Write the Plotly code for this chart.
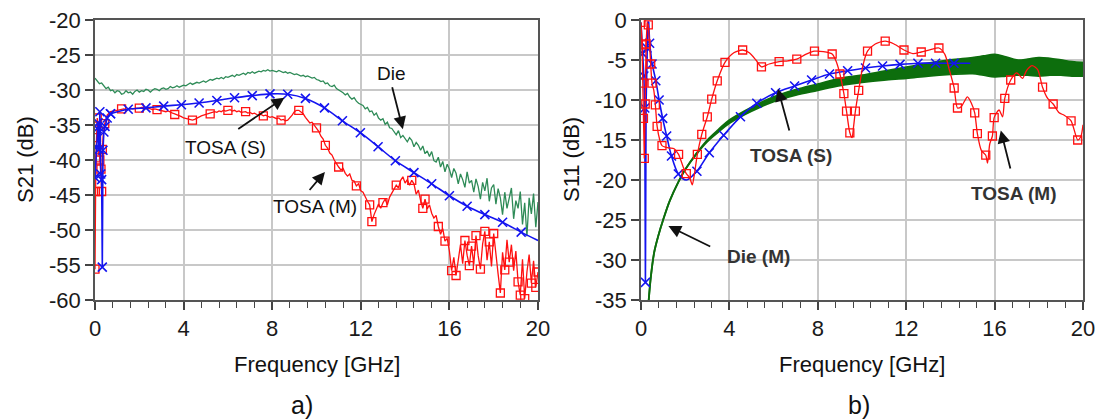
import plotly.graph_objects as go

# ---------------- tick labels ----------------
x_ticks = [0, 4, 8, 12, 16, 20]
x_labels = ["0", "4", "8", "12", "16", "20"]
y21_ticks = [-60, -55, -50, -45, -40, -35, -30, -25, -20]
y21_labels = ["-60", "-55", "-50", "-45", "-40", "-35", "-30", "-25", "-20"]
y11_ticks = [-35, -30, -25, -20, -15, -10, -5, 0]
y11_labels = ["-35", "-30", "-25", "-20", "-15", "-10", "-5", "0"]

# ---------------- S21 (panel a) ----------------
# Die: uniform grid 0..20 GHz step 0.1
die_s21 = [-28.3, -28.7, -29.1, -29.0, -29.4, -29.8, -29.6, -30.1, -30.0, -30.4, -30.1,
           -30.2, -30.6, -30.5, -30.1, -30.4, -30.3, -30.6, -30.2, -30.0, -30.3,
           -30.1, -30.2, -29.9, -30.0, -30.3, -30.0, -29.8, -29.9, -30.1, -29.8,
           -29.7, -29.9, -29.8, -29.5, -29.7, -29.6, -29.4, -29.6, -29.5, -29.3,
           -29.4, -29.2, -29.0, -29.2, -29.1, -28.9, -29.0, -28.8, -28.7, -28.9,
           -28.7, -28.5, -28.6, -28.5, -28.3, -28.4, -28.2, -28.4, -28.1, -28.2,
           -28.0, -27.9, -28.1, -27.8, -27.9, -27.7, -27.6, -27.8, -27.5, -27.6,
           -27.4, -27.6, -27.5, -27.3, -27.4, -27.2, -27.3, -27.1, -27.3, -27.2,
           -27.3, -27.4, -27.2, -27.4, -27.5, -27.4, -27.6, -27.5, -27.7, -27.8,
           -27.7, -27.9, -28.0, -27.9, -28.1, -28.0, -28.2, -28.3, -28.2, -28.5,
           -28.6, -28.8, -28.7, -29.1, -29.0, -29.4, -29.5, -29.3, -29.8, -30.0,
           -30.1, -30.4, -30.7, -30.5, -31.0, -31.3, -31.1, -31.6, -31.9, -32.0,
           -32.2, -32.7, -32.5, -33.1, -33.0, -33.6, -33.3, -34.0, -34.3, -34.1,
           -34.9, -34.6, -35.4, -35.5, -35.9, -36.4, -35.8, -36.8, -36.5, -37.0,
           -37.4, -36.8, -37.2, -38.1, -37.5, -37.9, -38.6, -38.0, -39.1, -38.7,
           -39.5, -38.8, -40.1, -40.3, -39.6, -41.0, -40.2, -41.7, -40.6, -41.3,
           -42.5, -41.2, -41.9, -43.4, -42.0, -42.8, -43.9, -41.7, -43.3, -42.9,
           -44.6, -42.7, -43.8, -45.6, -43.2, -44.4, -42.6, -45.9, -44.0, -43.5,
           -46.3, -44.1, -45.4, -47.8, -44.6, -46.9, -45.2, -44.0, -48.4, -45.8,
           -46.9, -44.5, -49.2, -46.1, -50.9, -45.4, -47.7, -44.8, -49.6, -46.0]

# TOSA (M) S21: low-frequency part (explicit) + main part on 1.0..20 GHz grid step 0.1
tm21_low_f = [0.0, 0.02, 0.04, 0.07, 0.1, 0.16, 0.22, 0.27, 0.3, 0.33, 0.38, 0.44, 0.55, 0.7, 0.85, 1.0]
tm21_low_v = [-55.6, -44.5, -39.7, -36.8, -34.0, -35.5, -40.0, -41.3, -44.5, -38.5, -36.0, -34.8, -33.6, -33.1, -33.0, -32.9]
tm21_main = [-32.9, -32.8, -32.7, -32.7, -32.8, -32.7, -32.6, -32.7, -32.6, -32.6,
             -32.6, -32.5, -32.6, -32.7, -32.6, -32.7, -32.8, -32.7, -32.8, -32.9,
             -32.9, -33.0, -33.1, -33.0, -33.2, -33.3, -33.4, -33.5, -33.7, -33.8,
             -34.0, -34.1, -34.2, -34.3, -34.3, -34.2, -34.0, -33.9, -33.7, -33.6,
             -33.5, -33.4, -33.4, -33.3, -33.1, -33.2, -33.0, -33.1, -32.9, -33.0,
             -32.9, -32.8, -33.0, -32.9, -33.1, -33.0, -33.2, -33.1, -33.1, -33.3,
             -33.2, -33.4, -33.3, -33.5, -33.6, -33.5, -33.7, -33.6, -33.8, -33.9,
             -33.8, -34.0, -34.1, -34.0, -34.3, -34.2, -34.4, -34.3, -34.0, -33.6,
             -33.1, -32.9, -32.9, -33.1, -33.4, -33.9, -34.3, -34.7, -34.6, -35.0,
             -35.4, -35.9, -36.6, -37.0, -37.9, -38.3, -39.0, -39.3, -40.0, -40.6,
             -41.0, -41.4, -41.2, -41.9, -42.3, -42.0, -42.9, -43.0, -43.7, -43.4,
             -44.4, -44.6, -45.3, -45.9, -46.4, -48.8, -47.8, -47.0, -46.3, -46.9,
             -46.1, -45.6, -46.4, -45.3, -44.8, -44.2, -43.6, -44.0, -42.9, -42.4,
             -43.3, -42.8, -43.6, -42.9, -43.4, -44.9, -44.3, -45.8, -46.9, -45.6,
             -47.0, -46.4, -47.6, -48.3, -47.9, -49.5, -50.6, -49.8, -51.6, -51.2,
             -53.0, -55.8, -53.9, -56.5, -54.2, -52.1, -54.8, -51.5, -53.6, -55.1,
             -52.3, -54.9, -50.8, -53.7, -55.6, -52.0, -50.2, -54.3, -51.7, -55.2,
             -50.5, -53.9, -56.3, -59.0, -53.2, -55.7, -51.4, -54.6, -52.1, -55.8,
             -53.0, -57.4, -59.3, -54.2, -59.8, -56.0, -53.5, -57.6, -54.4, -58.2,
             -56.0]
tm21_mk_f = [0.0, 0.02, 0.04, 0.07, 0.1, 0.22, 0.27, 0.3, 0.33, 0.44,
             1.2, 2.0, 2.8, 3.6, 4.4, 5.2, 6.0, 6.8, 7.6, 8.4, 9.2, 10.0, 10.4, 11.0, 11.8,
             12.4, 12.5, 13.0, 13.6, 14.3, 14.8, 14.9, 15.5, 15.8, 16.1, 16.3, 16.7, 16.9,
             17.0, 17.2, 17.4, 17.6, 17.8, 18.0, 18.3, 18.5, 18.7, 19.1, 19.2, 19.4, 19.7,
             19.9, 20.0]
tm21_mk_v = [-55.6, -44.5, -39.7, -36.8, -34.0, -40.0, -41.3, -44.5, -38.5, -34.8,
             -32.7, -32.6, -32.8, -33.5, -34.3, -33.4, -32.9, -33.1, -33.7, -34.3, -32.9, -35.4, -37.9, -41.0, -43.7,
             -46.4, -48.8, -46.1, -43.6, -42.9, -46.9, -45.6, -49.5, -51.6, -55.8, -56.5, -51.5, -55.1,
             -52.3, -50.8, -55.6, -50.2, -51.7, -50.5, -59.0, -55.7, -54.6, -57.4, -59.3, -59.8, -57.6,
             -58.2, -56.0]

# TOSA (S) S21
ts21_low_f = [0.0, 0.06, 0.1, 0.14, 0.18, 0.22, 0.26, 0.3, 0.33, 0.36, 0.4, 0.45, 0.55, 0.7]
ts21_low_v = [-42.5, -38.2, -35.5, -34.7, -38.5, -33.1, -42.0, -42.8, -55.3, -38.6, -36.0, -35.2, -34.0, -33.4]
ts21_f = [0.7, 1.5, 2.3, 3.1, 3.9, 4.7, 5.5, 6.3, 7.1, 7.9, 8.7, 9.5, 10.36, 11.17, 11.98,
          12.78, 13.56, 14.4, 15.2, 16.0, 16.8, 17.6, 18.4, 19.24, 20.0]
ts21_v = [-33.4, -32.75, -32.55, -32.3, -32.1, -31.85, -31.5, -31.1, -30.8, -30.55, -30.6, -31.2, -32.55, -34.4, -36.1,
          -38.1, -40.1, -41.8, -43.4, -45.1, -46.6, -47.8, -48.9, -50.3, -51.5]

# ---------------- S11 (panel b) ----------------
die11_f = [0.35, 0.45, 0.6, 0.8, 1.0, 1.3, 1.7, 2.0, 2.5, 3.0, 3.5, 4.0, 5.0, 6.0, 7.0, 8.0, 9.0, 10.0,
           11.0, 12.0, 13.0, 14.0, 15.0, 15.5, 16.0, 16.5, 17.0, 17.5, 18.0, 18.5, 19.0, 19.5, 20.0]
die11_hi = [-35.0, -32.0, -29.0, -26.8, -25.0, -22.6, -20.2, -18.7, -16.7, -15.0, -13.7, -12.5, -10.9, -9.6, -8.7,
            -8.0, -7.3, -6.9, -6.4, -5.9, -5.4, -5.0, -4.7, -4.5, -4.3, -4.6, -5.0, -4.9, -4.7, -4.8, -5.0, -5.2, -5.3]
die11_lo = [-35.0, -32.0, -29.0, -26.8, -25.0, -22.6, -20.2, -18.7, -16.8, -15.2, -14.0, -12.9, -11.4, -10.2, -9.4,
            -8.8, -8.2, -7.8, -7.5, -7.3, -7.0, -6.8, -6.7, -6.9, -7.1, -7.0, -6.9, -6.9, -7.0, -6.9, -6.9, -7.0, -7.0]

ts11_low_f = [0.0, 0.08, 0.13, 0.17, 0.2, 0.23, 0.27, 0.31, 0.35, 0.39, 0.5]
ts11_low_v = [-0.3, -4.2, -7.0, -11.0, -32.8, -10.5, -3.5, -0.2, -0.3, -2.9, -5.5]
ts11_f = [0.5, 0.67, 0.82, 0.98, 1.16, 1.38, 1.69, 2.05, 2.53, 3.09, 3.74, 4.5, 5.24, 6.09, 6.95,
          7.72, 8.53, 9.35, 10.16, 10.93, 11.72, 12.53, 13.33, 14.16, 14.9]
ts11_v = [-5.5, -7.6, -10.0, -12.3, -14.5, -17.0, -19.25, -20.0, -18.9, -16.6, -14.4, -12.1, -10.4, -9.1, -8.25,
          -7.5, -6.75, -6.35, -6.0, -5.75, -5.55, -5.4, -5.4, -5.4, -5.4]
ts11_mk_f = [0.08, 0.13, 0.17, 0.2, 0.27, 0.39, 0.5, 0.67, 0.82, 0.98, 1.16, 1.38, 1.69, 2.53, 3.09, 3.74,
             4.5, 5.24, 6.09, 6.95, 7.72, 8.53, 9.35, 10.16, 10.93, 11.72, 12.53, 13.33, 14.16]
ts11_mk_v = [-4.2, -7.0, -11.0, -32.8, -3.5, -2.9, -5.5, -7.6, -10.0, -12.3, -14.5, -17.0, -19.25, -18.9, -16.6, -14.4,
             -12.1, -10.4, -9.1, -8.25, -7.5, -6.75, -6.35, -6.0, -5.75, -5.55, -5.4, -5.4, -5.4]

tm11_low_f = [0.0, 0.05, 0.08, 0.11, 0.15, 0.19, 0.23, 0.28, 0.33, 0.38, 0.44]
tm11_low_v = [-0.3, -3.1, -7.9, -12.3, -17.3, -10.5, -3.0, -0.3, -0.6, -2.8, -5.5]
tm11_f = [0.44, 0.5, 0.58, 0.65, 0.73, 0.85, 0.95, 1.1, 1.3, 1.5, 1.7, 1.9, 2.05, 2.2, 2.32, 2.42, 2.55, 2.75,
          3.0, 3.2, 3.45, 3.8, 4.2, 4.6, 4.9, 5.2, 5.45, 5.8, 6.25, 6.65, 7.05, 7.45, 7.85, 8.25, 8.65, 8.85,
          9.0, 9.18, 9.3, 9.45, 9.55, 9.62, 9.7, 9.85, 10.05, 10.25, 10.6, 11.05, 11.45, 11.9, 12.3, 12.68,
          13.1, 13.48, 13.75, 13.95, 14.17, 14.32, 14.5, 14.77, 14.95, 15.1, 15.22, 15.4, 15.6, 15.68, 15.78,
          15.9, 15.98, 16.2, 16.36, 16.46, 16.73, 17.0, 17.26, 17.45, 17.7, 17.95, 18.17, 18.4, 18.65, 18.92,
          19.15, 19.46, 19.76, 19.9, 20.0]
tm11_v = [-5.5, -7.9, -8.8, -10.6, -13.3, -15.0, -15.7, -15.9, -16.0, -16.1, -16.8, -18.3, -19.2, -19.7, -20.6, -19.2, -16.8, -14.3,
          -12.1, -9.9, -7.6, -5.3, -4.1, -3.75, -4.1, -5.0, -5.85, -5.5, -5.2, -5.1, -4.9, -4.3, -3.9, -3.95, -4.25, -5.3,
          -6.75, -9.2, -11.4, -14.1, -14.7, -13.3, -11.4, -8.8, -5.6, -3.9, -3.0, -2.65, -3.0, -3.75, -4.2, -4.0,
          -3.7, -3.5, -4.3, -6.2, -8.5, -11.0, -10.8, -9.6, -10.4, -11.6, -14.2, -16.3, -16.9, -17.9, -15.5,
          -14.5, -12.2, -11.25, -12.1, -9.8, -7.5, -6.6, -7.3, -6.3, -5.7, -6.2, -8.4, -9.8, -10.5, -11.6,
          -11.9, -12.6, -15.0, -14.6, -13.1]
tm11_mk_f = [0.0, 0.05, 0.08, 0.11, 0.15, 0.19, 0.23, 0.33, 0.44, 0.5, 0.65, 0.73, 0.95, 1.7, 2.05, 2.55, 2.75,
             3.0, 3.2, 3.45, 3.8, 4.6, 5.45, 6.25, 7.05, 7.85, 8.65, 9.0, 9.18, 9.3, 9.45, 9.7, 9.85, 10.25,
             11.05, 11.9, 12.68, 13.48, 14.17, 14.32, 15.1, 15.22, 15.6, 15.9, 15.98, 16.46, 16.73, 18.17,
             18.65, 19.46, 19.76]
tm11_mk_v = [-0.3, -3.1, -7.9, -12.3, -17.3, -10.5, -3.0, -0.6, -5.5, -7.9, -10.6, -13.3, -15.7, -16.8, -19.2, -16.8, -14.3,
             -12.1, -9.9, -7.6, -5.3, -3.75, -5.85, -5.2, -4.9, -3.9, -4.25, -6.75, -9.2, -11.4, -14.1, -11.4, -8.8, -3.9,
             -2.65, -3.75, -4.0, -3.5, -8.5, -11.0, -11.6, -14.2, -16.9, -14.5, -12.2, -9.8, -7.5, -8.4,
             -10.5, -12.6, -15.0]

# ---------------- styling ----------------
RED = "#ff1010"
BLUE = "#1414f0"
GREEN21 = "#2e8b57"
GREEN11 = "#0d6e0d"
FONT = "Arial, 'Liberation Sans', sans-serif"

fig = go.Figure()

# panel a
fig.add_trace(go.Scatter(x0=0.0, dx=0.1, y=die_s21, mode="lines", line=dict(color=GREEN21, width=1.3),
                         xaxis="x", yaxis="y", showlegend=False))
fig.add_trace(go.Scatter(x=tm21_low_f, y=tm21_low_v, mode="lines", line=dict(color=RED, width=1.3),
                         xaxis="x", yaxis="y", showlegend=False))
fig.add_trace(go.Scatter(x0=1.0, dx=0.1, y=tm21_main, mode="lines", line=dict(color=RED, width=1.3),
                         xaxis="x", yaxis="y", showlegend=False))
fig.add_trace(go.Scatter(x=tm21_mk_f, y=tm21_mk_v, mode="markers",
                         marker=dict(symbol="square-open", size=8, color=RED, line=dict(width=1.3, color=RED)),
                         xaxis="x", yaxis="y", showlegend=False))
fig.add_trace(go.Scatter(x=ts21_low_f, y=ts21_low_v, mode="lines+markers", line=dict(color=BLUE, width=1.6),
                         marker=dict(symbol="x-thin", size=9, color=BLUE, line=dict(width=1.6, color=BLUE)),
                         xaxis="x", yaxis="y", showlegend=False))
fig.add_trace(go.Scatter(x=ts21_f, y=ts21_v, mode="lines", line=dict(color=BLUE, width=1.6, shape="spline", smoothing=0.8),
                         xaxis="x", yaxis="y", showlegend=False))
fig.add_trace(go.Scatter(x=ts21_f[:-1], y=ts21_v[:-1], mode="markers",
                         marker=dict(symbol="x-thin", size=9, color=BLUE, line=dict(width=1.6, color=BLUE)),
                         xaxis="x", yaxis="y", showlegend=False))

# panel b
fig.add_trace(go.Scatter(x=die11_f, y=die11_lo, mode="lines", line=dict(color=GREEN11, width=1.8, shape="spline"),
                         xaxis="x2", yaxis="y2", showlegend=False))
fig.add_trace(go.Scatter(x=die11_f, y=die11_hi, mode="lines", line=dict(color=GREEN11, width=1.8, shape="spline"),
                         fill="tonexty", fillcolor=GREEN11, xaxis="x2", yaxis="y2", showlegend=False))
fig.add_trace(go.Scatter(x=ts11_low_f, y=ts11_low_v, mode="lines", line=dict(color=BLUE, width=1.6),
                         xaxis="x2", yaxis="y2", showlegend=False))
fig.add_trace(go.Scatter(x=ts11_f, y=ts11_v, mode="lines", line=dict(color=BLUE, width=1.6, shape="spline", smoothing=0.8),
                         xaxis="x2", yaxis="y2", showlegend=False))
fig.add_trace(go.Scatter(x=ts11_mk_f, y=ts11_mk_v, mode="markers",
                         marker=dict(symbol="x-thin", size=9, color=BLUE, line=dict(width=1.6, color=BLUE)),
                         xaxis="x2", yaxis="y2", showlegend=False))
fig.add_trace(go.Scatter(x=tm11_low_f, y=tm11_low_v, mode="lines", line=dict(color=RED, width=1.3),
                         xaxis="x2", yaxis="y2", showlegend=False))
fig.add_trace(go.Scatter(x=tm11_f, y=tm11_v, mode="lines", line=dict(color=RED, width=1.3, shape="spline", smoothing=0.7),
                         xaxis="x2", yaxis="y2", showlegend=False))
fig.add_trace(go.Scatter(x=tm11_mk_f, y=tm11_mk_v, mode="markers",
                         marker=dict(symbol="square-open", size=8, color=RED, line=dict(width=1.3, color=RED)),
                         xaxis="x2", yaxis="y2", showlegend=False))

W, H = 1098, 420
TICKFONT = dict(family=FONT, size=22, color="#1a1a1a")
common_x = dict(range=[0, 20], tickmode="array", tickvals=x_ticks, ticktext=x_labels,
                ticks="outside", ticklen=8, tickwidth=1.5, tickcolor="#444",
                showline=True, linecolor="#555", linewidth=1.5, mirror=True, automargin=False,
                showgrid=True, gridcolor="#c8c8c8", gridwidth=1.5, zeroline=False,
                minor=dict(dtick=0.8, tick0=0, ticks="outside", ticklen=6, tickwidth=1.2, tickcolor="#444", showgrid=False),
                tickfont=TICKFONT)
common_y = dict(tickmode="array", ticks="outside", ticklen=8, tickwidth=1.5, tickcolor="#444",
                showline=True, linecolor="#555", linewidth=1.5, mirror=True, automargin=False,
                showgrid=True, gridcolor="#c8c8c8", gridwidth=1.5, zeroline=False,
                tickfont=TICKFONT)

fig.update_layout(
    width=W, height=H, margin=dict(l=0, r=0, t=20, b=120, autoexpand=False),
    paper_bgcolor="white", plot_bgcolor="white",
    xaxis=dict(domain=[95 / W, 538 / W], anchor="y", **common_x),
    yaxis=dict(domain=[0, 1], anchor="x", range=[-60, -20], tickvals=y21_ticks, ticktext=y21_labels, **common_y),
    xaxis2=dict(domain=[641 / W, 1083 / W], anchor="y2", **common_x),
    yaxis2=dict(domain=[0, 1], anchor="x2", range=[-35, 0], tickvals=y11_ticks, ticktext=y11_labels, **common_y),
    showlegend=False,
)

ann = []
def text(x, y, s, xref, yref, size=19, color="#111", **kw):
    ann.append(dict(x=x, y=y, xref=xref, yref=yref, text=s, showarrow=False,
                    font=dict(family=FONT, size=size, color=color), xanchor="center", yanchor="middle", **kw))

def arrow(hx, hy, tx, ty, xr, yr):
    ann.append(dict(x=hx, y=hy, ax=tx, ay=ty, xref=xr, yref=yr, axref=xr, ayref=yr, text="",
                    showarrow=True, arrowhead=2, arrowsize=1.4, arrowwidth=1.8, arrowcolor="#111"))

# panel a labels
text(13.4, -27.7, "Die", "x", "y")
arrow(13.9, -35.6, 13.4, -29.4, "x", "y")
text(5.9, -38.2, "TOSA (S)", "x", "y")
arrow(8.55, -31.1, 6.4, -35.7, "x", "y")
text(9.93, -46.7, "TOSA (M)", "x", "y")
arrow(10.38, -41.7, 9.63, -44.5, "x", "y")

# panel b labels
text(6.78, -16.9, "<b>TOSA (S)</b>", "x2", "y2", color="#333")
arrow(6.2, -8.6, 6.73, -14.0, "x2", "y2")
text(16.87, -21.7, "<b>TOSA (M)</b>", "x2", "y2", color="#333")
arrow(16.28, -13.8, 16.73, -18.75, "x2", "y2")
text(5.3, -29.5, "<b>Die (M)</b>", "x2", "y2", color="#333")
arrow(1.24, -25.75, 3.2, -28.4, "x2", "y2")

# axis titles and panel tags
text(316.5 / W, -(364 - 300) / 280, "Frequency [GHz]", "paper", "paper", size=22)
text(862 / W, -(364 - 300) / 280, "Frequency [GHz]", "paper", "paper", size=22)
text(302 / W, -(405 - 300) / 280, "a)", "paper", "paper", size=25)
text(859 / W, -(405 - 300) / 280, "b)", "paper", "paper", size=25)
text(25 / W, 0.5, "S21 (dB)", "paper", "paper", size=22, textangle=-90)
text(571 / W, 0.5, "S11 (dB)", "paper", "paper", size=22, textangle=-90)

fig.update_layout(annotations=ann)
fig.write_html("out.html", config={"displayModeBar": False},
               post_script="document.body.style.margin='0';document.body.style.overflow='hidden';")
